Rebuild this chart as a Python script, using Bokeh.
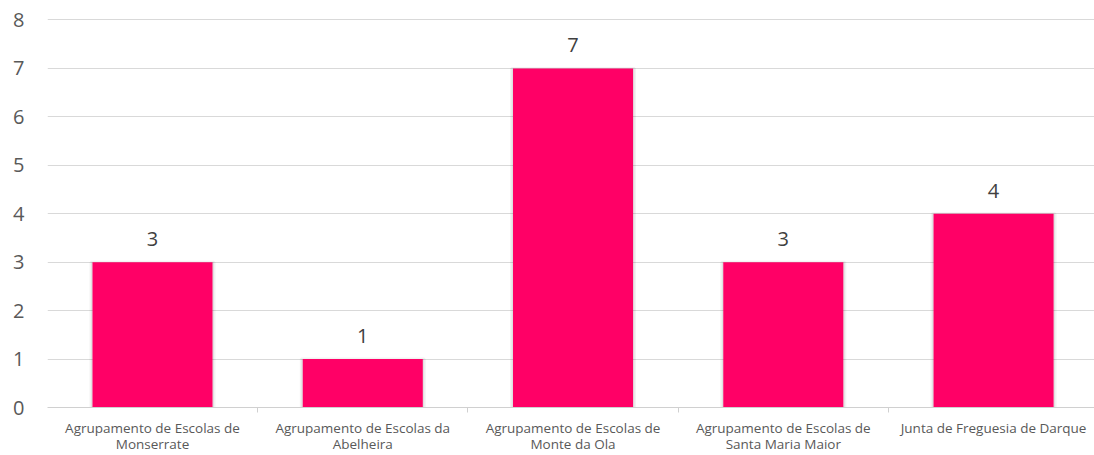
from bokeh.plotting import figure
from bokeh.models import FixedTicker, Range1d, ColumnDataSource
from bokeh.embed import file_html
from bokeh.resources import INLINE
from bokeh.core.properties import value

categories = ["Agrupamento de Escolas de\nMonserrate",
              "Agrupamento de Escolas da\nAbelheira",
              "Agrupamento de Escolas de\nMonte da Ola",
              "Agrupamento de Escolas de\nSanta Maria Maior",
              "Junta de Freguesia de Darque"]
values = [3, 1, 7, 3, 4]
y_ticks = [0, 1, 2, 3, 4, 5, 6, 7, 8]

xs = list(range(len(categories)))
src = ColumnDataSource(dict(x=xs, top=values, lbl=[str(v) for v in values]))

p = figure(width=1094, height=455, output_backend="svg", toolbar_location=None,
           x_range=Range1d(-0.4994, 4.48), y_range=Range1d(0, 8.2986),
           min_border_left=47, min_border_right=0, min_border_top=5, min_border_bottom=47)
p.outline_line_color = None
p.background_fill_color = "white"

# faint shadow
p.vbar(x="x", top="top", width=0.585, bottom=0, source=src, fill_color="#000000",
       fill_alpha=0.07, line_color="#000000", line_alpha=0.05, line_width=3)
p.vbar(x="x", top="top", width=0.571, bottom=0, source=src, fill_color="#FF0066", line_color=None)
p.text(x="x", y="top", text="lbl", source=src, text_align="center", text_baseline="bottom",
       y_offset=-16, text_font=value("Open Sans"), text_font_size="20px", text_color="#404040")

p.xgrid.grid_line_color = None
p.ygrid.grid_line_color = "#d9d9d9"
p.ygrid.grid_line_width = 1
p.ygrid.ticker = FixedTicker(ticks=y_ticks)

p.yaxis.ticker = FixedTicker(ticks=y_ticks)
p.yaxis.axis_line_color = None
p.yaxis.major_tick_line_color = None
p.yaxis.major_tick_out = 0
p.yaxis.minor_tick_line_color = None
p.yaxis.major_label_text_font = "Open Sans"
p.yaxis.major_label_text_font_size = "20px"
p.yaxis.major_label_text_color = "#595959"
p.yaxis.major_label_standoff = 23

p.xaxis.ticker = FixedTicker(ticks=xs, minor_ticks=[-0.5, 0.5, 1.5, 2.5, 3.5, 4.5])
p.xaxis.major_label_overrides = {i: c for i, c in enumerate(categories)}
p.xaxis.axis_line_color = "#d0d0d0"
p.xaxis.major_tick_line_color = None
p.xaxis.major_tick_out = 0
p.xaxis.minor_tick_line_color = "#d0d0d0"
p.xaxis.minor_tick_in = 0
p.xaxis.minor_tick_out = 5
p.xaxis.major_label_text_font = "Open Sans"
p.xaxis.major_label_text_font_size = "13.5px"
p.xaxis.major_label_text_color = "#595959"
p.xaxis.major_label_standoff = 6
p.xaxis.major_label_text_line_height = 0.9

open("out.html", "w").write(file_html(p, INLINE))
